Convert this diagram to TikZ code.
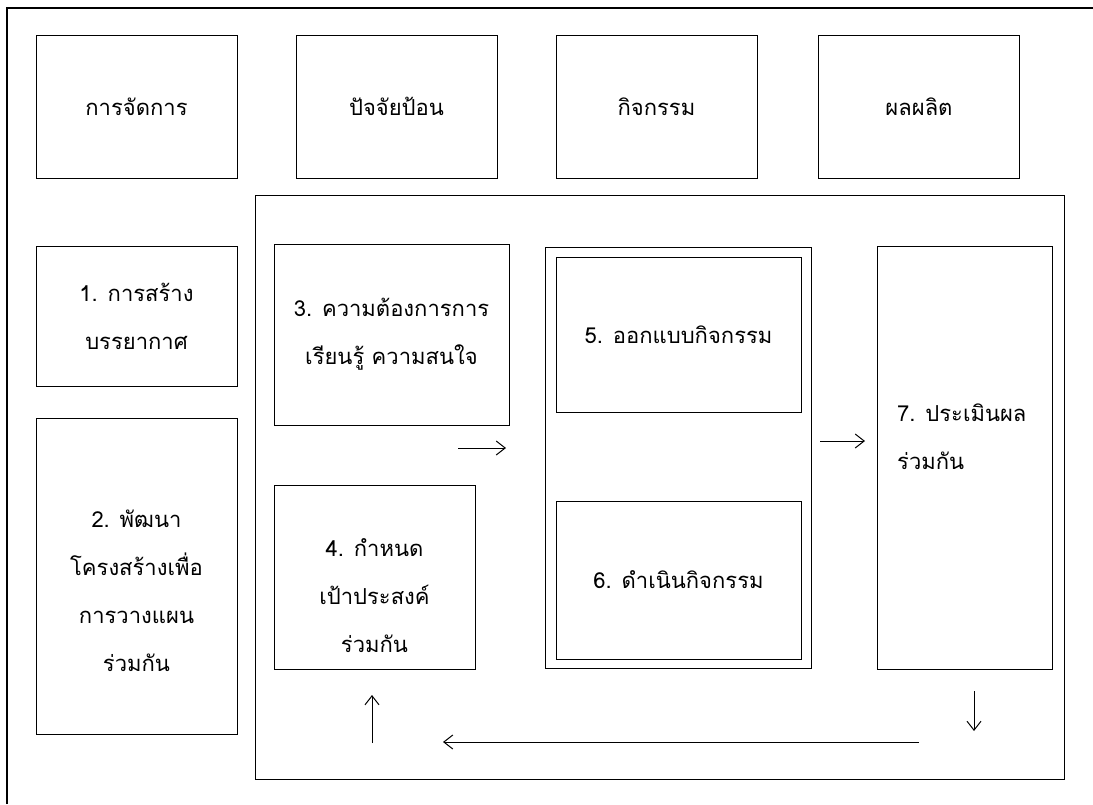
\documentclass[tikz,border=0pt]{standalone}
\usepackage{fontspec}
\newfontfamily\thaifont[Script=Thai]{Loma}
\usetikzlibrary{arrows.meta}
\begin{document}
\begin{tikzpicture}[x=1pt,y=-1pt,
  box/.style={draw, line width=0.9pt, inner sep=0pt, align=center,
    font=\thaifont\fontsize{22}{48}\selectfont},
  thin/.style={draw, line width=0.7pt, inner sep=0pt},
  txt/.style={inner sep=0pt, align=center, font=\thaifont\fontsize{22}{48}\selectfont},
  arr/.style={line width=1pt, -{Straight Barb[length=9pt,width=14pt,line width=1pt]}}]
\useasboundingbox (0,0) rectangle (1093,804);
\draw[line width=1.5pt] (7,804) -- (7,8) -- (1093,8);
% header boxes
\node[box, minimum width=201pt, minimum height=143pt] (mgmt) at (136.5,106.5) {การจัดการ};
\node[box, minimum width=201pt, minimum height=143pt] (inp) at (396.5,106.5) {ปัจจัยป้อน};
\node[box, minimum width=201pt, minimum height=143pt] (act) at (656.5,106.5) {กิจกรรม};
\node[box, minimum width=201pt, minimum height=143pt] (out) at (919,106.5) {ผลผลิต};
% left column
\node[box, minimum width=201pt, minimum height=140pt] (b1) at (136.5,316) {1. การสร้าง\\บรรยากาศ};
\node[box, minimum width=201pt, minimum height=316pt] (b2) at (136.5,576) {};
\node[txt] (t2) at (136.5,591) {2. พัฒนา\\โครงสร้างเพื่อ\\การวางแผน\\ร่วมกัน};
% big frame
\node[thin, minimum width=809pt, minimum height=584pt] (big) at (659.5,487) {};
\node[box, line width=0.7pt, minimum width=235pt, minimum height=181pt] (b3) at (391.5,334.5) {3. ความต้องการการ\\เรียนรู้ ความสนใจ};
\node[box, line width=0.7pt, minimum width=201pt, minimum height=184pt] (b4) at (374.5,577) {};
\node[txt] (t4) at (374.5,596) {4. กำหนด\\เป้าประสงค์\\ร่วมกัน};
\node[box, minimum width=266pt, minimum height=421pt] (b56) at (678,457.5) {};
\node[box, minimum width=245pt, minimum height=155pt] (b5) at (678.5,334.5) {5. ออกแบบกิจกรรม};
\node[box, minimum width=245pt, minimum height=158pt] (b6) at (678.5,580) {6. ดำเนินกิจกรรม};
\node[box, line width=0.7pt, minimum width=175pt, minimum height=423pt] (b7) at (964.5,457.5) {};
\node[txt, align=left, anchor=west] (t7) at (897,437) {7. ประเมินผล\\ร่วมกัน};
% arrows
\coordinate (a1s) at (458,448); \coordinate (a1e) at (506,448);
\coordinate (a2s) at (820,441); \coordinate (a2e) at (865,441);
\coordinate (a3s) at (974,691); \coordinate (a3e) at (974,731);
\coordinate (a4s) at (919,742); \coordinate (a4e) at (443,742);
\coordinate (a5s) at (372,743); \coordinate (a5e) at (372,695);
\draw[arr] (a1s) -- (a1e);
\draw[arr] (a2s) -- (a2e);
\draw[arr] (a3s) -- (a3e);
\draw[arr] (a4s) -- (a4e);
\draw[arr] (a5s) -- (a5e);
\end{tikzpicture}
\end{document}
